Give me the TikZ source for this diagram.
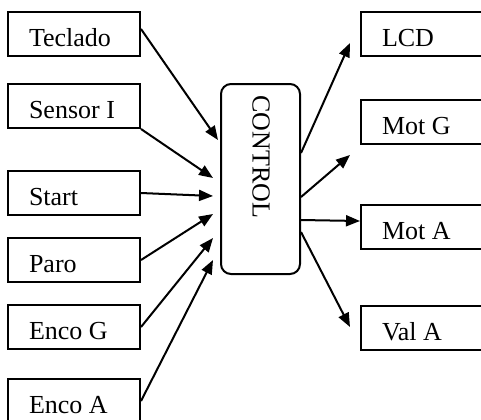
\documentclass[tikz,border=0pt]{standalone}
\usepackage{fontspec}
\setmainfont{Liberation Serif}
\usepackage{tikz}
\usetikzlibrary{arrows.meta,calc}

\tikzset{
  blk/.style={draw,line width=1pt,minimum width=66pt,minimum height=22pt,
    inner xsep=10.5pt,inner ysep=0pt,text width=45pt,align=flush left,
    text height=12pt,text depth=0pt,anchor=north west,
    font=\fontsize{13}{15}\selectfont},
  ctrlbox/.style={draw,line width=1pt,rounded corners=5pt,
    minimum width=39.5pt,minimum height=95pt,anchor=north west},
  sig/.style={line width=1pt,-{Triangle[length=7pt,width=5.5pt]}}
}

\begin{document}
\begin{tikzpicture}[x=0.5pt,y=-0.5pt]
  \useasboundingbox (0,0) rectangle (481,419);
  % inputs
  \node[blk] (teclado) at (7,11) {Teclado};
  \node[blk] (sensor) at (7,83) {Sensor I};
  \node[blk] (start) at (7,170) {Start};
  \node[blk] (paro) at (7,237) {Paro};
  \node[blk] (encog) at (7,304) {Enco G};
  \node[blk] (encoa) at (7,378) {Enco A};
  % outputs
  \node[blk] (lcd) at (360,11) {LCD};
  \node[blk] (motg) at (360,99) {Mot G};
  \node[blk] (mota) at (360,204) {Mot A};
  \node[blk] (vala) at (360,305) {Val A};
  % control unit
  \node[ctrlbox] (ctrl) at (220,83) {};
  \node[rotate=-90,font=\fontsize{13}{15}\selectfont] (ctrltxt) at (261,157) {CONTROL};
  \draw[sig] ($(teclado.east)+(0,-5)$) -- ($(ctrl.north west)+(-2,57)$);
  \draw[sig] (sensor.south east) -- ($(ctrl.north west)+(-7,95)$);
  \draw[sig] (start.east) -- ($(ctrl.north west)+(-7,113)$);
  \draw[sig] (paro.east) -- ($(ctrl.north west)+(-7,131)$);
  \draw[sig] (encog.east) -- ($(ctrl.north west)+(-7,155)$);
  \draw[sig] (encoa.east) -- ($(ctrl.north west)+(-7,177)$);
  \draw[sig] ($(ctrl.north east)+(0,70)$) -- ($(lcd.west)+(-10,9)$);
  \draw[sig] ($(ctrl.north east)+(0,114)$) -- ($(motg.south west)+(-10,10)$);
  \draw[sig] ($(ctrl.north east)+(0,137)$) -- ($(mota.west)+(0,-6)$);
  \draw[sig] ($(ctrl.north east)+(0,149)$) -- ($(vala.west)+(-10,-1)$);
\end{tikzpicture}
\end{document}
